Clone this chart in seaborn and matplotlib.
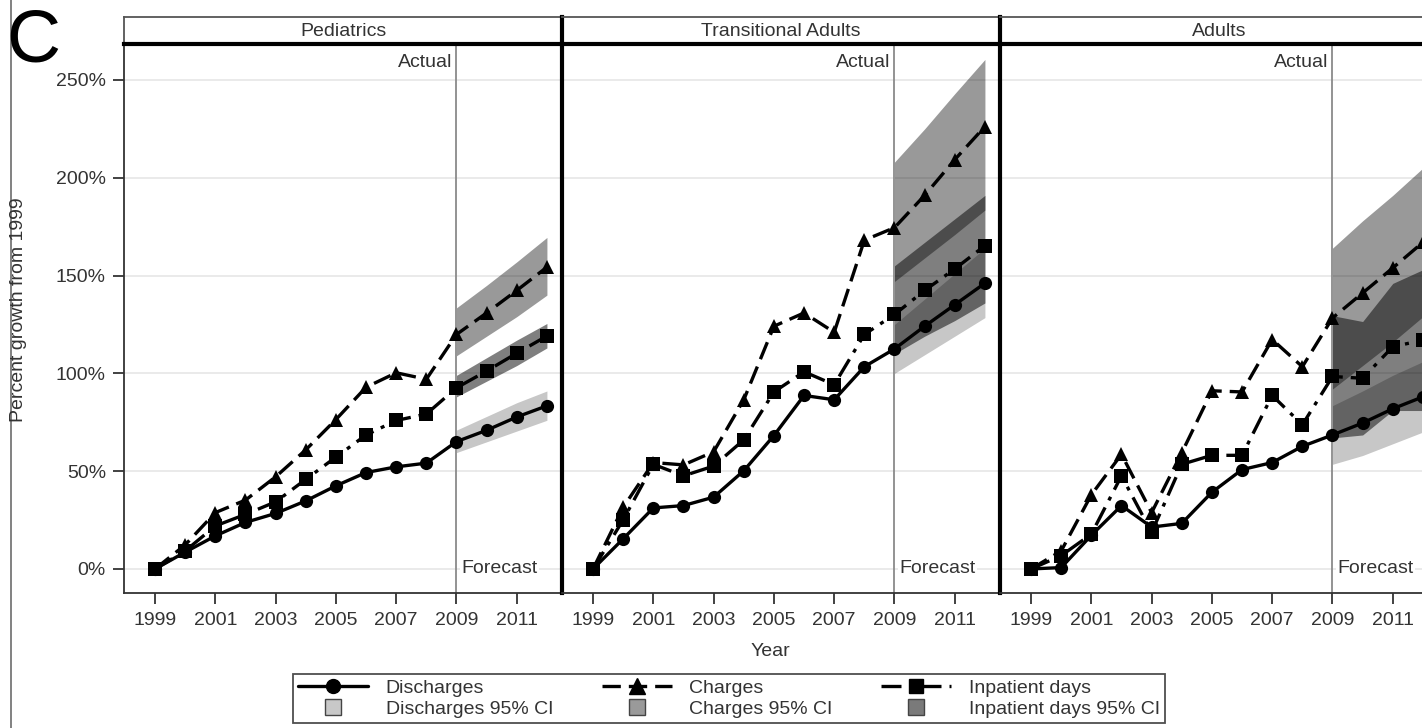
import numpy as np
import pandas as pd
import matplotlib
matplotlib.use('Agg')
import matplotlib.pyplot as plt
from matplotlib.lines import Line2D
import seaborn as sns

# Values (percent growth from 1999)
years = list(range(1999, 2013))
forecast_years = [2009, 2010, 2011, 2012]
panels = ['Pediatrics', 'Transitional Adults', 'Adults']

ped_discharges = [0, 8.6, 16.9, 23.8, 28.4, 34.8, 42.5, 49.3, 52.2, 54.1, 65.1, 70.9, 77.7, 83.4]
ped_charges = [0, 12.3, 28.8, 35.2, 47.1, 60.9, 76.4, 92.9, 100.3, 97.0, 119.9, 130.9, 142.4, 154.3]
ped_inpatient = [0, 9.2, 22.0, 27.9, 34.3, 45.8, 57.2, 68.5, 75.9, 79.2, 92.6, 101.2, 110.3, 119.1]

ta_discharges = [0, 15.4, 31.2, 32.4, 36.7, 50.2, 68.2, 88.7, 86.5, 103.4, 112.5, 124.1, 135.1, 146.1]
ta_charges = [0, 31.5, 54.4, 53.2, 59.9, 86.5, 124.1, 130.9, 121.0, 168.1, 174.5, 191.0, 209.3, 226.2]
ta_inpatient = [0, 25.1, 53.5, 47.6, 52.6, 66.0, 90.5, 100.8, 94.2, 119.9, 130.1, 142.4, 153.4, 165.3]

ad_discharges = [0, 0.7, 17.2, 32.4, 21.4, 23.3, 39.2, 50.8, 54.4, 62.7, 68.5, 74.6, 81.9, 88.0]
ad_charges = [0, 9.2, 37.9, 58.6, 28.8, 59.4, 91.1, 90.5, 117.3, 103.4, 128.3, 141.1, 153.9, 167.0]
ad_inpatient = [0, 6.8, 17.8, 47.6, 18.7, 53.5, 58.1, 58.1, 88.7, 73.7, 98.4, 97.5, 113.6, 117.0]

# 95% CI bounds for forecast years 2009-2012
ped_dis_lo = [59.5, 65, 70.5, 76]
ped_dis_hi = [71, 78, 85, 91]
ped_chg_lo = [109, 119, 129, 140]
ped_chg_hi = [133.5, 145, 157, 169.5]
ped_inp_lo = [88, 96, 104, 113]
ped_inp_hi = [99, 108, 117, 125.5]

ta_dis_lo = [100, 109.5, 119, 128.5]
ta_dis_hi = [125, 138, 151, 164]
ta_chg_lo = [147, 159, 171, 183.5]
ta_chg_hi = [208, 225, 243, 260.5]
ta_inp_lo = [110, 119, 127, 136]
ta_inp_hi = [155, 167, 179, 191]

ad_dis_lo = [53.5, 58, 64, 70]
ad_dis_hi = [83.5, 91, 99, 106]
ad_chg_lo = [92, 104, 116, 129]
ad_chg_hi = [164, 178, 191, 205]
ad_inp_lo = [67, 68.5, 81, 81]
ad_inp_hi = [129.5, 126.5, 146, 153]

series = {
    'Pediatrics': (ped_discharges, ped_charges, ped_inpatient,
                   (ped_dis_lo, ped_dis_hi), (ped_chg_lo, ped_chg_hi), (ped_inp_lo, ped_inp_hi)),
    'Transitional Adults': (ta_discharges, ta_charges, ta_inpatient,
                            (ta_dis_lo, ta_dis_hi), (ta_chg_lo, ta_chg_hi), (ta_inp_lo, ta_inp_hi)),
    'Adults': (ad_discharges, ad_charges, ad_inpatient,
               (ad_dis_lo, ad_dis_hi), (ad_chg_lo, ad_chg_hi), (ad_inp_lo, ad_inp_hi)),
}

sns.set_style('white')
plt.rcParams['font.family'] = ['Liberation Sans', 'DejaVu Sans']

fig = plt.figure(figsize=(14.22, 7.28), dpi=100)

W, H = 1422, 728
ax_left = [124, 562, 1000]
ax_w = 438
top_px, bot_px = 44, 593

chg_dash = (0, (5.5, 2.4))
inp_dash = (0, (6, 2.4, 1.2, 2.4))

fs = 14
txt_col = '#333333'
for i, name in enumerate(panels):
    ax = fig.add_axes([ax_left[i] / W, 1 - bot_px / H, ax_w / W, (bot_px - top_px) / H])
    dis, chg, inp, dis_ci, chg_ci, inp_ci = series[name]

    # CI bands
    ax.fill_between(forecast_years, chg_ci[0], chg_ci[1], color='black', alpha=0.40, lw=0, zorder=1)
    ax.fill_between(forecast_years, inp_ci[0], inp_ci[1], color='black', alpha=0.50, lw=0, zorder=1.1)
    ax.fill_between(forecast_years, dis_ci[0], dis_ci[1], color='black', alpha=0.22, lw=0, zorder=1.2)

    df = pd.DataFrame({'Year': years, 'Discharges': dis, 'Charges': chg, 'Inpatient days': inp})
    sns.lineplot(data=df, x='Year', y='Discharges', ax=ax, color='black', lw=2.4,
                 marker='o', markersize=9.5, markeredgewidth=0, zorder=5)
    sns.lineplot(data=df, x='Year', y='Charges', ax=ax, color='black', lw=2.4,
                 linestyle=chg_dash, marker='^', markersize=10.5, markeredgewidth=0, zorder=5)
    sns.lineplot(data=df, x='Year', y='Inpatient days', ax=ax, color='black', lw=2.4,
                 linestyle=inp_dash, marker='s', markersize=9.5, markeredgewidth=0, zorder=5)

    ax.axvline(2009, color='#8a8a8a', lw=1.3, zorder=2)
    ax.text(2008.85, 259, 'Actual', ha='right', va='center', fontsize=fs, color=txt_col, zorder=6)
    ax.text(2009.15, 0, 'Forecast', ha='left', va='center', fontsize=fs, color=txt_col, zorder=6,
            bbox=dict(facecolor='white', edgecolor='none', pad=1))

    ax.set_xlim(1997.97, 2012.5)
    ax.set_ylim(-12.3, 268.4)
    ax.set_yticks([0, 50, 100, 150, 200, 250])
    ax.yaxis.grid(True, color='#e6e6e6', lw=1.2)
    ax.set_axisbelow(True)
    ax.set_xticks([1999, 2001, 2003, 2005, 2007, 2009, 2011])
    ax.tick_params(axis='x', direction='out', length=8, width=1.3, color='#333333',
                   labelsize=fs, labelcolor=txt_col, pad=6, bottom=True)
    ax.set_xlabel('')
    ax.set_ylabel('')
    if i == 0:
        ax.set_yticklabels([f'{v}%' for v in [0, 50, 100, 150, 200, 250]])
        ax.tick_params(axis='y', direction='out', length=8, width=1.3, color='#333333',
                       labelsize=fs, labelcolor=txt_col, pad=5, left=True)
    else:
        ax.tick_params(axis='y', left=False, labelleft=False)
    for s in ax.spines.values():
        s.set_color('#333333')
        s.set_linewidth(1.3)
    if i > 0:
        ax.spines['left'].set_linewidth(3)
        ax.spines['left'].set_color('black')

    # header strip
    hx = fig.add_axes([ax_left[i] / W, 1 - top_px / H, ax_w / W, 27 / H])
    hx.set_xticks([])
    hx.set_yticks([])
    for s in hx.spines.values():
        s.set_color('#555555')
        s.set_linewidth(1.3)
    hx.spines['bottom'].set_linewidth(3)
    hx.spines['bottom'].set_color('black')
    if i > 0:
        hx.spines['left'].set_linewidth(3)
        hx.spines['left'].set_color('black')
    hx.text(0.5, 0.48, name, ha='center', va='center', fontsize=fs, color=txt_col,
            transform=hx.transAxes)

# labels
fig.text(19 / W, 1 - 310 / H, 'Percent growth from 1999', rotation=90, ha='center', va='center',
         fontsize=fs, color=txt_col)
fig.text(770 / W, 1 - 652 / H, 'Year', ha='center', va='center', fontsize=fs, color=txt_col)
fig.text(6 / W, 1 - 61 / H, 'C', ha='left', va='baseline', fontsize=54, color='black')
fig.add_artist(Line2D([11 / W, 11 / W], [0, 1], color='#777777', lw=1.3, transform=fig.transFigure))

sq = dict(marker='s', linestyle='none', markersize=11, markeredgecolor='#444444', markeredgewidth=1)
handles = [
    Line2D([], [], color='black', lw=2.4, marker='o', markersize=10),
    Line2D([], [], markerfacecolor='#c8c8c8', **sq),
    Line2D([], [], color='black', lw=2.4, linestyle=chg_dash, marker='^', markersize=11),
    Line2D([], [], markerfacecolor='#9a9a9a', **sq),
    Line2D([], [], color='black', lw=2.4, linestyle=inp_dash, marker='s', markersize=10),
    Line2D([], [], markerfacecolor='#7a7a7a', **sq),
]
labels = ['Discharges', 'Discharges 95% CI', 'Charges', 'Charges 95% CI',
          'Inpatient days', 'Inpatient days 95% CI']
leg = fig.legend(handles, labels, ncol=3, loc='center', bbox_to_anchor=(729 / W, 1 - 698.5 / H),
                 frameon=True, fontsize=fs, handlelength=3.6, handletextpad=0.9,
                 columnspacing=2.5, labelspacing=0.2, borderpad=0.25, borderaxespad=0,
                 fancybox=False)
leg.get_frame().set_edgecolor('#222222')
leg.get_frame().set_linewidth(1.3)
for t in leg.get_texts():
    t.set_color(txt_col)

fig.savefig('out.png', dpi=100)
